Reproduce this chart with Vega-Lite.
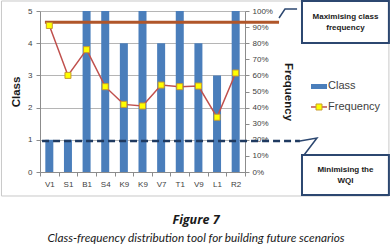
{
  "$schema": "https://vega.github.io/schema/vega-lite/v6.json",
  "width": 205,
  "height": 161,
  "autosize": {"type": "none"},
  "padding": {"left": 40, "top": 11, "right": 147, "bottom": 77},
  "background": "white",
  "config": {
    "view": {"stroke": null},
    "font": "Liberation Sans",
    "axis": {"labelFont": "Liberation Sans", "labelColor": "#404040", "labelFontSize": 8, "titleFont": "Liberation Sans", "titleFontWeight": "bold", "titleFontSize": 11.5, "titleColor": "#1a1a1a", "domainColor": "#8c8c8c", "tickColor": "#8c8c8c", "gridColor": "#b5b5b5"}
  },
  "datasets": {
    "main": [
      {"key": "V1_1", "cls": 1, "freq": 0.91},
      {"key": "S1_1", "cls": 1, "freq": 0.60},
      {"key": "B1_1", "cls": 5, "freq": 0.76},
      {"key": "S4_1", "cls": 5, "freq": 0.53},
      {"key": "K9_1", "cls": 4, "freq": 0.42},
      {"key": "K9_2", "cls": 5, "freq": 0.41},
      {"key": "V7_1", "cls": 4, "freq": 0.54},
      {"key": "T1_1", "cls": 5, "freq": 0.53},
      {"key": "V9_1", "cls": 4, "freq": 0.534},
      {"key": "L1_1", "cls": 3, "freq": 0.34},
      {"key": "R2_1", "cls": 5, "freq": 0.615}
    ],
    "frame": [{"u1": -0.188, "u2": 1.702, "c1": 5.311, "c2": -0.745}],
    "targets": [
      {"name": "max", "u1": 0.024, "u2": 1.166, "c": 4.65},
      {"name": "min", "u1": 0.01, "u2": 1.268, "c": 0.96}
    ],
    "pointers": [
      {"grp": "top", "ord": 1, "u": 1.166, "c": 4.783},
      {"grp": "top", "ord": 2, "u": 1.195, "c": 5.062},
      {"grp": "top", "ord": 3, "u": 1.254, "c": 5.062},
      {"grp": "bot", "ord": 1, "u": 1.268, "c": 0.963},
      {"grp": "bot", "ord": 2, "u": 1.351, "c": 1.056},
      {"grp": "bot", "ord": 3, "u": 1.288, "c": 0.528}
    ],
    "boxes": [
      {"u1": 1.278, "u2": 1.702, "c1": 5.311, "c2": 4.006},
      {"u1": 1.278, "u2": 1.702, "c1": 0.528, "c2": -0.714}
    ],
    "boxtext": [
      {"u": 1.49, "c": 4.814, "t": "Maximising class"},
      {"u": 1.49, "c": 4.472, "t": "frequency"},
      {"u": 1.49, "c": 0.062, "t": "Minimising the"},
      {"u": 1.49, "c": -0.28, "t": "WQI"}
    ],
    "legsym": [{"u1": 1.322, "u2": 1.4, "c1": 2.733, "c2": 2.578}],
    "legline": [{"u1": 1.322, "u2": 1.4, "um": 1.361, "c": 2.019}],
    "legtext": [
      {"u": 1.405, "c": 2.656, "t": "Class"},
      {"u": 1.405, "c": 2.019, "t": "Frequency"}
    ],
    "fig": [{"u": 0.761, "c": -1.48, "t": "Figure 7"}],
    "sub": [{"u": 0.761, "c": -2.06, "t": "Class-frequency distribution tool for building future scenarios"}]
  },
  "resolve": {"scale": {"x": "independent", "y": "independent"}},
  "layer": [
    {
      "data": {"name": "frame"},
      "mark": {"type": "rect", "fill": null, "stroke": "#c8c8c8", "strokeWidth": 1},
      "encoding": {
        "x": {"field": "u1", "type": "quantitative", "scale": {"domain": [0, 1], "nice": false, "zero": false}, "axis": null},
        "x2": {"field": "u2"},
        "y": {"field": "c1", "type": "quantitative", "scale": {"domain": [0, 5], "nice": false, "zero": false}, "axis": null},
        "y2": {"field": "c2"}
      }
    },
    {
      "data": {"name": "main"},
      "mark": {"type": "bar", "color": "#4a7ebb", "size": 8},
      "encoding": {
        "x": {"field": "key", "type": "nominal", "sort": null, "scale": {"paddingInner": 0, "paddingOuter": 0},
              "axis": {"title": null, "labelExpr": "substring(datum.label, 0, 2)", "labelAngle": 0, "tickBand": "extent", "tickSize": 4, "labelPadding": 4}},
        "y": {"field": "cls", "type": "quantitative", "scale": {"domain": [0, 5], "nice": false},
              "axis": {"title": "Class", "values": [0, 1, 2, 3, 4, 5], "tickSize": 4, "labelPadding": 4, "titlePadding": 6, "grid": true}}
      }
    },
    {
      "data": {"name": "targets"},
      "transform": [{"filter": "datum.name == 'min'"}],
      "mark": {"type": "rule", "color": "#1f3a60", "strokeWidth": 2.5, "strokeDash": [7, 4]},
      "encoding": {
        "x": {"field": "u1", "type": "quantitative", "scale": {"domain": [0, 1], "nice": false, "zero": false}, "axis": null},
        "x2": {"field": "u2"},
        "y": {"field": "c", "type": "quantitative", "scale": {"domain": [0, 5], "nice": false, "zero": false}, "axis": null}
      }
    },
    {
      "data": {"name": "targets"},
      "transform": [{"filter": "datum.name == 'max'"}],
      "mark": {"type": "rule", "color": "#b0562a", "strokeWidth": 3},
      "encoding": {
        "x": {"field": "u1", "type": "quantitative", "scale": {"domain": [0, 1], "nice": false, "zero": false}, "axis": null},
        "x2": {"field": "u2"},
        "y": {"field": "c", "type": "quantitative", "scale": {"domain": [0, 5], "nice": false, "zero": false}, "axis": null}
      }
    },
    {
      "data": {"name": "main"},
      "mark": {"type": "line", "color": "#c0504d", "strokeWidth": 1.5,
               "point": {"shape": "square", "filled": true, "fill": "#ffff00", "stroke": "#c89a30", "strokeWidth": 1, "size": 36}},
      "encoding": {
        "x": {"field": "key", "type": "nominal", "sort": null, "scale": {"paddingInner": 0, "paddingOuter": 0}, "axis": null},
        "y": {"field": "freq", "type": "quantitative", "scale": {"domain": [0, 1], "nice": false},
              "axis": {"orient": "right", "title": "Frequency", "values": [0, 0.1, 0.2, 0.3, 0.4, 0.5, 0.6, 0.7, 0.8, 0.9, 1], "format": ".0%", "tickSize": 4, "labelPadding": 3, "titlePadding": 10, "grid": false}}
      }
    },
    {
      "data": {"name": "pointers"},
      "mark": {"type": "line", "color": "#2c4770", "strokeWidth": 1.5},
      "encoding": {
        "x": {"field": "u", "type": "quantitative", "scale": {"domain": [0, 1], "nice": false, "zero": false}, "axis": null},
        "y": {"field": "c", "type": "quantitative", "scale": {"domain": [0, 5], "nice": false, "zero": false}, "axis": null},
        "detail": {"field": "grp"},
        "order": {"field": "ord"}
      }
    },
    {
      "data": {"name": "boxes"},
      "mark": {"type": "rect", "fill": "white", "stroke": "#2c4770", "strokeWidth": 2},
      "encoding": {
        "x": {"field": "u1", "type": "quantitative", "scale": {"domain": [0, 1], "nice": false, "zero": false}, "axis": null},
        "x2": {"field": "u2"},
        "y": {"field": "c1", "type": "quantitative", "scale": {"domain": [0, 5], "nice": false, "zero": false}, "axis": null},
        "y2": {"field": "c2"}
      }
    },
    {
      "data": {"name": "boxtext"},
      "mark": {"type": "text", "font": "Liberation Sans", "fontWeight": "bold", "fontSize": 8, "color": "#1a1a1a", "align": "center", "baseline": "middle"},
      "encoding": {
        "x": {"field": "u", "type": "quantitative", "scale": {"domain": [0, 1], "nice": false, "zero": false}, "axis": null},
        "y": {"field": "c", "type": "quantitative", "scale": {"domain": [0, 5], "nice": false, "zero": false}, "axis": null},
        "text": {"field": "t"}
      }
    },
    {
      "data": {"name": "legsym"},
      "mark": {"type": "rect", "fill": "#4a7ebb"},
      "encoding": {
        "x": {"field": "u1", "type": "quantitative", "scale": {"domain": [0, 1], "nice": false, "zero": false}, "axis": null},
        "x2": {"field": "u2"},
        "y": {"field": "c1", "type": "quantitative", "scale": {"domain": [0, 5], "nice": false, "zero": false}, "axis": null},
        "y2": {"field": "c2"}
      }
    },
    {
      "data": {"name": "legline"},
      "mark": {"type": "rule", "color": "#c0504d", "strokeWidth": 1.5},
      "encoding": {
        "x": {"field": "u1", "type": "quantitative", "scale": {"domain": [0, 1], "nice": false, "zero": false}, "axis": null},
        "x2": {"field": "u2"},
        "y": {"field": "c", "type": "quantitative", "scale": {"domain": [0, 5], "nice": false, "zero": false}, "axis": null}
      }
    },
    {
      "data": {"name": "legline"},
      "mark": {"type": "point", "shape": "square", "filled": true, "fill": "#ffff00", "stroke": "#c89a30", "strokeWidth": 1, "size": 36, "opacity": 1},
      "encoding": {
        "x": {"field": "um", "type": "quantitative", "scale": {"domain": [0, 1], "nice": false, "zero": false}, "axis": null},
        "y": {"field": "c", "type": "quantitative", "scale": {"domain": [0, 5], "nice": false, "zero": false}, "axis": null}
      }
    },
    {
      "data": {"name": "legtext"},
      "mark": {"type": "text", "font": "Liberation Sans", "fontSize": 11, "color": "#404040", "align": "left", "baseline": "middle"},
      "encoding": {
        "x": {"field": "u", "type": "quantitative", "scale": {"domain": [0, 1], "nice": false, "zero": false}, "axis": null},
        "y": {"field": "c", "type": "quantitative", "scale": {"domain": [0, 5], "nice": false, "zero": false}, "axis": null},
        "text": {"field": "t"}
      }
    },
    {
      "data": {"name": "fig"},
      "mark": {"type": "text", "font": "Open Sans", "fontStyle": "italic", "fontWeight": "bold", "fontSize": 12.5, "color": "#1a1a1a", "align": "center", "baseline": "middle"},
      "encoding": {
        "x": {"field": "u", "type": "quantitative", "scale": {"domain": [0, 1], "nice": false, "zero": false}, "axis": null},
        "y": {"field": "c", "type": "quantitative", "scale": {"domain": [0, 5], "nice": false, "zero": false}, "axis": null},
        "text": {"field": "t"}
      }
    },
    {
      "data": {"name": "sub"},
      "mark": {"type": "text", "font": "Lato", "fontStyle": "italic", "fontSize": 11.8, "color": "#1a1a1a", "align": "center", "baseline": "middle"},
      "encoding": {
        "x": {"field": "u", "type": "quantitative", "scale": {"domain": [0, 1], "nice": false, "zero": false}, "axis": null},
        "y": {"field": "c", "type": "quantitative", "scale": {"domain": [0, 5], "nice": false, "zero": false}, "axis": null},
        "text": {"field": "t"}
      }
    }
  ]
}
